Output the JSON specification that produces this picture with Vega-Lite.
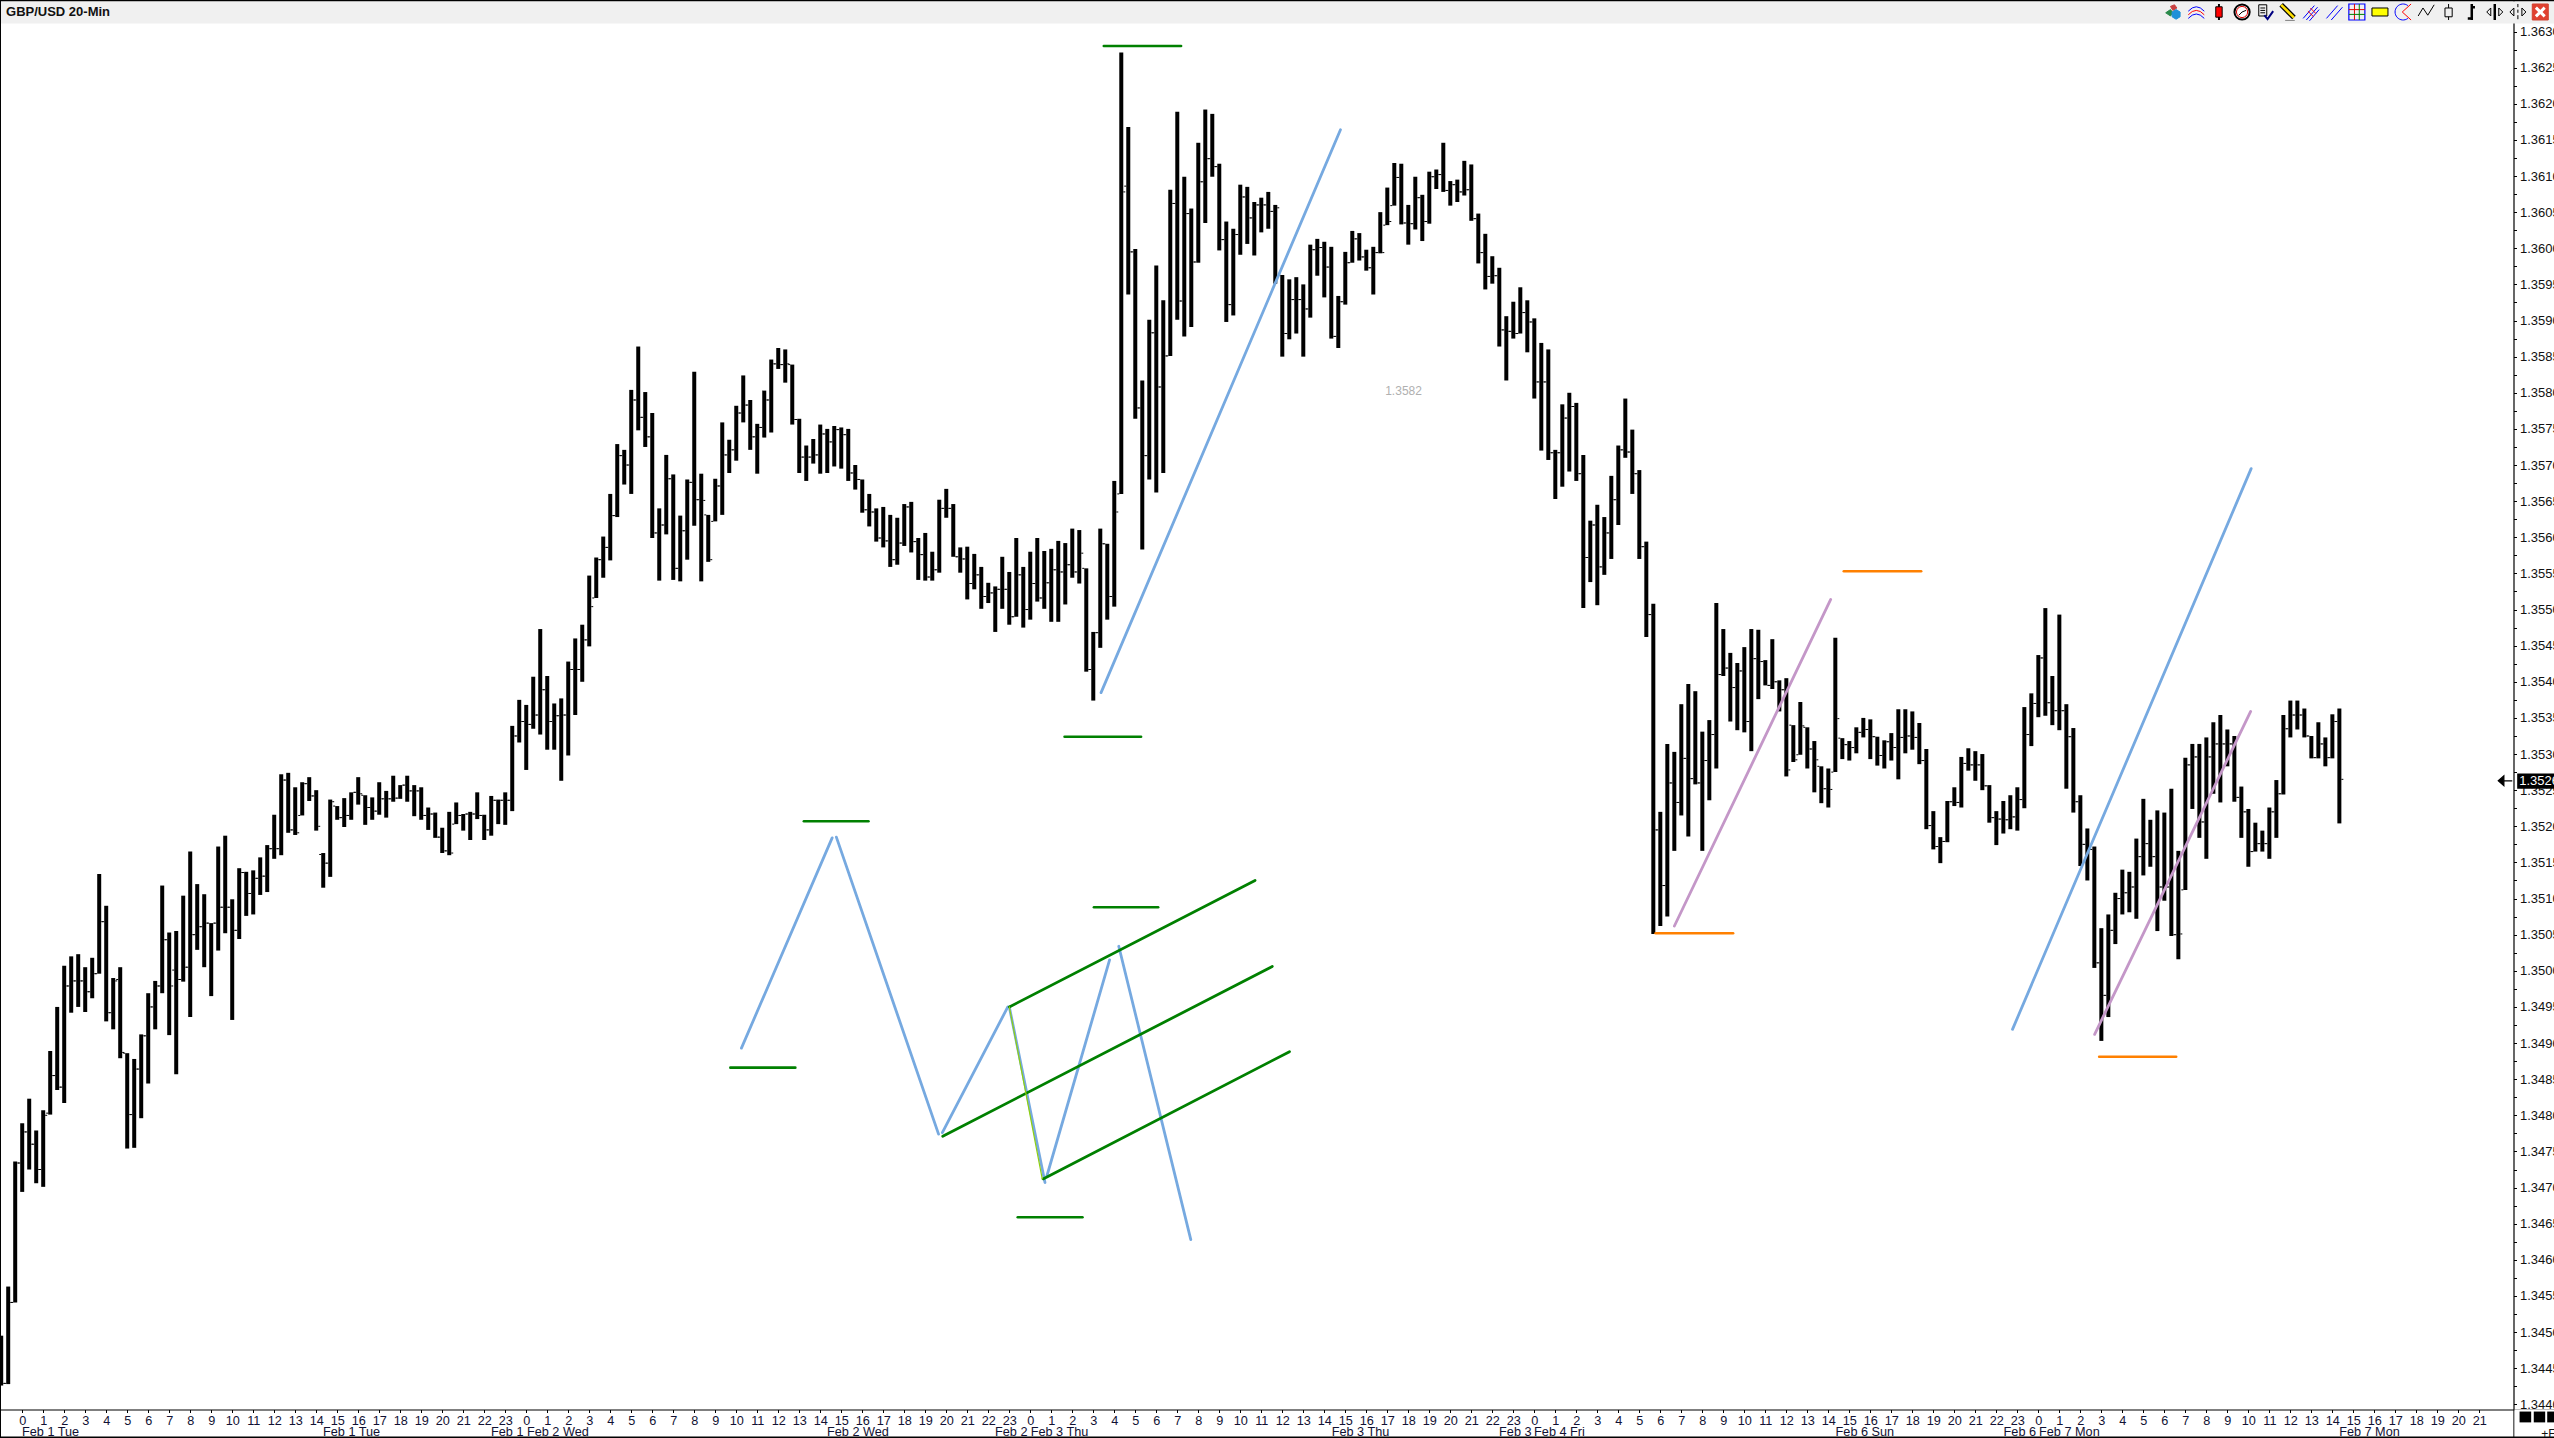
{"$schema":"https://vega.github.io/schema/vega-lite/v6.json","width":2554,"height":1438,"autosize":{"type":"none"},"padding":0,"background":"white","config":{"view":{"stroke":null},"font":"Liberation Sans"},"resolve":{"axis":{"x":"independent","y":"independent"}},
"datasets":{
"bars":[
{"i":0,"h":1.34495,"l":1.34426,"o":1.3444,"c":1.34429},{"i":1,"h":1.34563,"l":1.34428,"o":1.34429,"c":1.34541},{"i":2,"h":1.34736,"l":1.34541,"o":1.34541,"c":1.34734},{"i":3,"h":1.34789,"l":1.34694,"o":1.34734,"c":1.34777},{"i":4,"h":1.34823,"l":1.34725,"o":1.34777,"c":1.3476},{"i":5,"h":1.34779,"l":1.34706,"o":1.3476,"c":1.34725},{"i":6,"h":1.34807,"l":1.34701,"o":1.34725,"c":1.348},{"i":7,"h":1.34889,"l":1.34801,"o":1.34803,"c":1.34855},{"i":8,"h":1.3495,"l":1.34835,"o":1.34855,"c":1.34839},{"i":9,"h":1.35007,"l":1.34817,"o":1.34839,"c":1.34979},
{"i":10,"h":1.3502,"l":1.34942,"o":1.34979,"c":1.34986},{"i":11,"h":1.35023,"l":1.3495,"o":1.34986,"c":1.34986},{"i":12,"h":1.35005,"l":1.34943,"o":1.34986,"c":1.34971},{"i":13,"h":1.35018,"l":1.34962,"o":1.34971,"c":1.34996},{"i":14,"h":1.35134,"l":1.34996,"o":1.34996,"c":1.35068},{"i":15,"h":1.3509,"l":1.3493,"o":1.35068,"c":1.34942},{"i":16,"h":1.3499,"l":1.34919,"o":1.34942,"c":1.34986},{"i":17,"h":1.35005,"l":1.34879,"o":1.34988,"c":1.34887},{"i":18,"h":1.34886,"l":1.34754,"o":1.34886,"c":1.34801},{"i":19,"h":1.34878,"l":1.34755,"o":1.34801,"c":1.34864},
{"i":20,"h":1.34912,"l":1.34796,"o":1.34864,"c":1.3491},{"i":21,"h":1.34969,"l":1.34844,"o":1.3491,"c":1.3495},{"i":22,"h":1.34986,"l":1.34919,"o":1.3495,"c":1.34979},{"i":23,"h":1.35118,"l":1.34969,"o":1.34979,"c":1.35043},{"i":24,"h":1.35053,"l":1.34911,"o":1.35043,"c":1.34979},{"i":25,"h":1.35055,"l":1.34857,"o":1.35001,"c":1.34988},{"i":26,"h":1.35104,"l":1.34985,"o":1.34988,"c":1.35005},{"i":27,"h":1.35165,"l":1.34936,"o":1.35005,"c":1.3505},{"i":28,"h":1.3512,"l":1.35029,"o":1.3505,"c":1.35061},{"i":29,"h":1.35106,"l":1.35005,"o":1.35061,"c":1.35066},
{"i":30,"h":1.35066,"l":1.34965,"o":1.35066,"c":1.35066},{"i":31,"h":1.35172,"l":1.35028,"o":1.35066,"c":1.35088},{"i":32,"h":1.35187,"l":1.35052,"o":1.35088,"c":1.35088},{"i":33,"h":1.35099,"l":1.34932,"o":1.35088,"c":1.35056},{"i":34,"h":1.35142,"l":1.35044,"o":1.35056,"c":1.35136},{"i":35,"h":1.35137,"l":1.35076,"o":1.35136,"c":1.35107},{"i":36,"h":1.35139,"l":1.35078,"o":1.35107,"c":1.35128},{"i":37,"h":1.35157,"l":1.35105,"o":1.35128,"c":1.35131},{"i":38,"h":1.35174,"l":1.35109,"o":1.35131,"c":1.35169},{"i":39,"h":1.35216,"l":1.35155,"o":1.35169,"c":1.35169},
{"i":40,"h":1.35272,"l":1.3516,"o":1.35169,"c":1.35264},{"i":41,"h":1.35274,"l":1.35191,"o":1.35264,"c":1.35195},{"i":42,"h":1.35254,"l":1.35188,"o":1.35195,"c":1.35191},{"i":43,"h":1.35261,"l":1.35215,"o":1.35215,"c":1.35259},{"i":44,"h":1.35268,"l":1.35235,"o":1.35259,"c":1.35242},{"i":45,"h":1.3525,"l":1.35194,"o":1.35242,"c":1.352},{"i":46,"h":1.35163,"l":1.35115,"o":1.35161,"c":1.35149},{"i":47,"h":1.35237,"l":1.3513,"o":1.35149,"c":1.35234},{"i":48,"h":1.35228,"l":1.35209,"o":1.35228,"c":1.35212},{"i":49,"h":1.35239,"l":1.35199,"o":1.35212,"c":1.35215},
{"i":50,"h":1.35247,"l":1.35209,"o":1.35215,"c":1.35247},{"i":51,"h":1.35268,"l":1.3523,"o":1.35247,"c":1.35245},{"i":52,"h":1.35243,"l":1.35202,"o":1.35243,"c":1.35226},{"i":53,"h":1.3524,"l":1.35209,"o":1.35226,"c":1.35221},{"i":54,"h":1.35261,"l":1.35216,"o":1.35221,"c":1.35238},{"i":55,"h":1.35249,"l":1.35212,"o":1.35238,"c":1.35238},{"i":56,"h":1.3527,"l":1.35234,"o":1.35238,"c":1.35239},{"i":57,"h":1.35257,"l":1.35238,"o":1.35239,"c":1.35257},{"i":58,"h":1.3527,"l":1.35234,"o":1.35257,"c":1.35249},{"i":59,"h":1.35257,"l":1.35214,"o":1.35249,"c":1.35249},
{"i":60,"h":1.35254,"l":1.35209,"o":1.35249,"c":1.35215},{"i":61,"h":1.35226,"l":1.35195,"o":1.35215,"c":1.35217},{"i":62,"h":1.35219,"l":1.35184,"o":1.35217,"c":1.35185},{"i":63,"h":1.35198,"l":1.35163,"o":1.35185,"c":1.35166},{"i":64,"h":1.3522,"l":1.3516,"o":1.35166,"c":1.35163},{"i":65,"h":1.35233,"l":1.35203,"o":1.35203,"c":1.35215},{"i":66,"h":1.35217,"l":1.35194,"o":1.35215,"c":1.35217},{"i":67,"h":1.3522,"l":1.35181,"o":1.35217,"c":1.35217},{"i":68,"h":1.35247,"l":1.3521,"o":1.35217,"c":1.35215},{"i":69,"h":1.35216,"l":1.35181,"o":1.35215,"c":1.35195},
{"i":70,"h":1.35242,"l":1.35187,"o":1.35195,"c":1.35236},{"i":71,"h":1.35237,"l":1.35203,"o":1.35236,"c":1.35236},{"i":72,"h":1.35247,"l":1.35202,"o":1.35236,"c":1.35236},{"i":73,"h":1.35339,"l":1.35221,"o":1.35236,"c":1.35325},{"i":74,"h":1.35375,"l":1.35316,"o":1.35325,"c":1.35345},{"i":75,"h":1.35368,"l":1.35278,"o":1.35345,"c":1.35341},{"i":76,"h":1.35407,"l":1.35335,"o":1.35341,"c":1.35354},{"i":77,"h":1.35473,"l":1.35327,"o":1.35354,"c":1.35389},{"i":78,"h":1.35408,"l":1.35306,"o":1.35389,"c":1.35345},{"i":79,"h":1.3537,"l":1.35306,"o":1.35345,"c":1.35353},
{"i":80,"h":1.35377,"l":1.35263,"o":1.35353,"c":1.35354},{"i":81,"h":1.35428,"l":1.35298,"o":1.35354,"c":1.35417},{"i":82,"h":1.3546,"l":1.35354,"o":1.35417,"c":1.35417},{"i":83,"h":1.35479,"l":1.354,"o":1.35417,"c":1.35458},{"i":84,"h":1.35547,"l":1.35449,"o":1.35458,"c":1.35504},{"i":85,"h":1.35572,"l":1.35516,"o":1.35516,"c":1.35569},{"i":86,"h":1.35601,"l":1.35544,"o":1.35569,"c":1.35586},{"i":87,"h":1.3566,"l":1.35568,"o":1.35586,"c":1.3563},{"i":88,"h":1.35729,"l":1.35628,"o":1.3563,"c":1.35713},{"i":89,"h":1.35721,"l":1.35673,"o":1.35713,"c":1.357},
{"i":90,"h":1.35804,"l":1.3566,"o":1.357,"c":1.3579},{"i":91,"h":1.35864,"l":1.35748,"o":1.3579,"c":1.35766},{"i":92,"h":1.35801,"l":1.35725,"o":1.35766,"c":1.35739},{"i":93,"h":1.35772,"l":1.35599,"o":1.35739,"c":1.35606},{"i":94,"h":1.3564,"l":1.3554,"o":1.35606,"c":1.35617},{"i":95,"h":1.35714,"l":1.35604,"o":1.35617,"c":1.35681},{"i":96,"h":1.35687,"l":1.35541,"o":1.35681,"c":1.35557},{"i":97,"h":1.3563,"l":1.35539,"o":1.35557,"c":1.35609},{"i":98,"h":1.3568,"l":1.35569,"o":1.35609,"c":1.35676},{"i":99,"h":1.35829,"l":1.35616,"o":1.35676,"c":1.35652},
{"i":100,"h":1.35688,"l":1.35539,"o":1.35652,"c":1.35651},{"i":101,"h":1.35631,"l":1.35566,"o":1.35631,"c":1.35569},{"i":102,"h":1.35681,"l":1.35622,"o":1.35622,"c":1.35671},{"i":103,"h":1.35759,"l":1.35631,"o":1.35671,"c":1.35714},{"i":104,"h":1.35735,"l":1.35689,"o":1.35714,"c":1.35721},{"i":105,"h":1.35782,"l":1.35706,"o":1.35721,"c":1.35772},{"i":106,"h":1.35824,"l":1.35759,"o":1.35772,"c":1.35783},{"i":107,"h":1.3579,"l":1.35721,"o":1.35783,"c":1.35739},{"i":108,"h":1.35757,"l":1.35688,"o":1.35739,"c":1.35752},{"i":109,"h":1.35803,"l":1.35738,"o":1.35752,"c":1.3579},
{"i":110,"h":1.35846,"l":1.35745,"o":1.3579,"c":1.3584},{"i":111,"h":1.35862,"l":1.35833,"o":1.3584,"c":1.35839},{"i":112,"h":1.3586,"l":1.35814,"o":1.35839,"c":1.3584},{"i":113,"h":1.35839,"l":1.35756,"o":1.35839,"c":1.35763},{"i":114,"h":1.35764,"l":1.35689,"o":1.35763,"c":1.35711},{"i":115,"h":1.35727,"l":1.35678,"o":1.35711,"c":1.35711},{"i":116,"h":1.35736,"l":1.35702,"o":1.35711,"c":1.35714},{"i":117,"h":1.35756,"l":1.35688,"o":1.35714,"c":1.35743},{"i":118,"h":1.3575,"l":1.35689,"o":1.35743,"c":1.35732},{"i":119,"h":1.35754,"l":1.35698,"o":1.35732,"c":1.35749},
{"i":120,"h":1.35752,"l":1.35695,"o":1.35749,"c":1.35742},{"i":121,"h":1.3575,"l":1.35678,"o":1.35742,"c":1.35689},{"i":122,"h":1.357,"l":1.35666,"o":1.35689,"c":1.3568},{"i":123,"h":1.3568,"l":1.35634,"o":1.3568,"c":1.35638},{"i":124,"h":1.3566,"l":1.35615,"o":1.35638,"c":1.35635},{"i":125,"h":1.3564,"l":1.35594,"o":1.35635,"c":1.35599},{"i":126,"h":1.35642,"l":1.35586,"o":1.35599,"c":1.35595},{"i":127,"h":1.35631,"l":1.35559,"o":1.35595,"c":1.35569},{"i":128,"h":1.35627,"l":1.35562,"o":1.35569,"c":1.35592},{"i":129,"h":1.35646,"l":1.35588,"o":1.35592,"c":1.35642},
{"i":130,"h":1.35649,"l":1.35579,"o":1.35642,"c":1.35594},{"i":131,"h":1.35599,"l":1.35541,"o":1.35594,"c":1.35576},{"i":132,"h":1.35606,"l":1.3554,"o":1.35576,"c":1.35545},{"i":133,"h":1.3558,"l":1.3554,"o":1.35545,"c":1.35555},{"i":134,"h":1.35652,"l":1.35551,"o":1.35555,"c":1.3564},{"i":135,"h":1.35667,"l":1.35627,"o":1.3564,"c":1.3564},{"i":136,"h":1.35646,"l":1.35573,"o":1.3564,"c":1.35573},{"i":137,"h":1.35586,"l":1.35551,"o":1.35573,"c":1.3557},{"i":138,"h":1.35587,"l":1.35514,"o":1.3557,"c":1.35536},{"i":139,"h":1.35577,"l":1.35528,"o":1.35536,"c":1.35548},
{"i":140,"h":1.35559,"l":1.35501,"o":1.35548,"c":1.35518},{"i":141,"h":1.35537,"l":1.35509,"o":1.35518,"c":1.35523},{"i":142,"h":1.35532,"l":1.35469,"o":1.35523,"c":1.35528},{"i":143,"h":1.35573,"l":1.35501,"o":1.35528,"c":1.35528},{"i":144,"h":1.35552,"l":1.35479,"o":1.35528,"c":1.3549},{"i":145,"h":1.35599,"l":1.3549,"o":1.3549,"c":1.35548},{"i":146,"h":1.35559,"l":1.35475,"o":1.35548,"c":1.355},{"i":147,"h":1.3558,"l":1.35486,"o":1.355,"c":1.35536},{"i":148,"h":1.35599,"l":1.35511,"o":1.35536,"c":1.35516},{"i":149,"h":1.35581,"l":1.35501,"o":1.35516,"c":1.35537},
{"i":150,"h":1.35584,"l":1.35483,"o":1.35537,"c":1.35555},{"i":151,"h":1.35595,"l":1.35483,"o":1.35555,"c":1.35552},{"i":152,"h":1.35592,"l":1.35507,"o":1.35552,"c":1.35562},{"i":153,"h":1.35612,"l":1.35544,"o":1.35562,"c":1.35552},{"i":154,"h":1.3561,"l":1.35536,"o":1.35552,"c":1.35578},{"i":155,"h":1.35557,"l":1.35414,"o":1.35557,"c":1.35417},{"i":156,"h":1.35469,"l":1.35374,"o":1.35417,"c":1.35468},{"i":157,"h":1.35612,"l":1.35447,"o":1.35468,"c":1.35591},{"i":158,"h":1.35591,"l":1.35486,"o":1.35591,"c":1.35518},{"i":159,"h":1.35678,"l":1.35504,"o":1.35518,"c":1.35635},
{"i":160,"h":1.36271,"l":1.3566,"o":1.3566,"c":1.36078},{"i":161,"h":1.36168,"l":1.35936,"o":1.36086,"c":1.35995},{"i":162,"h":1.35999,"l":1.35764,"o":1.35995,"c":1.35779},{"i":163,"h":1.35817,"l":1.35583,"o":1.35779,"c":1.35713},{"i":164,"h":1.35901,"l":1.3568,"o":1.35713,"c":1.35883},{"i":165,"h":1.35976,"l":1.35662,"o":1.35883,"c":1.35808},{"i":166,"h":1.35928,"l":1.35689,"o":1.35808,"c":1.35851},{"i":167,"h":1.36081,"l":1.35851,"o":1.35851,"c":1.36062},{"i":168,"h":1.36189,"l":1.35901,"o":1.36062,"c":1.35927},{"i":169,"h":1.36099,"l":1.35878,"o":1.35927,"c":1.36048},
{"i":170,"h":1.36055,"l":1.35891,"o":1.36048,"c":1.35981},{"i":171,"h":1.36146,"l":1.3598,"o":1.35981,"c":1.36092},{"i":172,"h":1.36192,"l":1.36035,"o":1.36092,"c":1.36124},{"i":173,"h":1.36186,"l":1.36099,"o":1.36124,"c":1.36113},{"i":174,"h":1.36117,"l":1.35997,"o":1.36113,"c":1.36012},{"i":175,"h":1.36037,"l":1.35898,"o":1.36012,"c":1.35922},{"i":176,"h":1.36027,"l":1.35907,"o":1.35922,"c":1.36019},{"i":177,"h":1.36088,"l":1.35991,"o":1.36019,"c":1.36071},{"i":178,"h":1.36085,"l":1.36006,"o":1.36071,"c":1.36042},{"i":179,"h":1.36064,"l":1.3599,"o":1.36042,"c":1.3606},
{"i":180,"h":1.3607,"l":1.36022,"o":1.3606,"c":1.3606},{"i":181,"h":1.36078,"l":1.36027,"o":1.3606,"c":1.36051},{"i":182,"h":1.3606,"l":1.35951,"o":1.36051,"c":1.36056},{"i":183,"h":1.35963,"l":1.3585,"o":1.35963,"c":1.35882},{"i":184,"h":1.35957,"l":1.35874,"o":1.35882,"c":1.35929},{"i":185,"h":1.3596,"l":1.35882,"o":1.35929,"c":1.35929},{"i":186,"h":1.3595,"l":1.3585,"o":1.35929,"c":1.35916},{"i":187,"h":1.36005,"l":1.35904,"o":1.35916,"c":1.35998},{"i":188,"h":1.36013,"l":1.35962,"o":1.35998,"c":1.36001},{"i":189,"h":1.36009,"l":1.35932,"o":1.36001,"c":1.35974},
{"i":190,"h":1.36002,"l":1.35875,"o":1.35974,"c":1.35878},{"i":191,"h":1.35934,"l":1.35862,"o":1.35878,"c":1.35926},{"i":192,"h":1.35995,"l":1.35922,"o":1.35926,"c":1.3598},{"i":193,"h":1.36024,"l":1.3598,"o":1.3598,"c":1.36013},{"i":194,"h":1.36021,"l":1.35983,"o":1.36013,"c":1.35988},{"i":195,"h":1.35998,"l":1.35969,"o":1.35988,"c":1.35973},{"i":196,"h":1.36002,"l":1.35936,"o":1.35973,"c":1.35994},{"i":197,"h":1.3605,"l":1.35993,"o":1.35994,"c":1.35994},{"i":198,"h":1.36084,"l":1.36032,"o":1.36032,"c":1.36037},{"i":199,"h":1.36118,"l":1.36059,"o":1.36059,"c":1.36098},
{"i":200,"h":1.36117,"l":1.36033,"o":1.36098,"c":1.36035},{"i":201,"h":1.3606,"l":1.36005,"o":1.36035,"c":1.36034},{"i":202,"h":1.36099,"l":1.36026,"o":1.36034,"c":1.3607},{"i":203,"h":1.36074,"l":1.3601,"o":1.3607,"c":1.36037},{"i":204,"h":1.36106,"l":1.36034,"o":1.36037,"c":1.36099},{"i":205,"h":1.36109,"l":1.36082,"o":1.36099,"c":1.36102},{"i":206,"h":1.36146,"l":1.36078,"o":1.36102,"c":1.3608},{"i":207,"h":1.36093,"l":1.36059,"o":1.3608,"c":1.36088},{"i":208,"h":1.36095,"l":1.36064,"o":1.36088,"c":1.36078},{"i":209,"h":1.36121,"l":1.36073,"o":1.36078,"c":1.36081},
{"i":210,"h":1.36116,"l":1.36038,"o":1.36081,"c":1.36041},{"i":211,"h":1.36048,"l":1.35979,"o":1.36041,"c":1.35994},{"i":212,"h":1.3602,"l":1.35943,"o":1.35994,"c":1.35961},{"i":213,"h":1.35989,"l":1.35951,"o":1.35961,"c":1.35962},{"i":214,"h":1.35973,"l":1.35864,"o":1.35962,"c":1.35887},{"i":215,"h":1.35906,"l":1.35817,"o":1.35887,"c":1.35885},{"i":216,"h":1.35926,"l":1.35875,"o":1.35885,"c":1.35882},{"i":217,"h":1.35946,"l":1.35882,"o":1.35882,"c":1.35911},{"i":218,"h":1.35928,"l":1.35856,"o":1.35911,"c":1.35898},{"i":219,"h":1.35903,"l":1.35792,"o":1.35898,"c":1.35815},
{"i":220,"h":1.35869,"l":1.3572,"o":1.35815,"c":1.35815},{"i":221,"h":1.3586,"l":1.35707,"o":1.35815,"c":1.35717},{"i":222,"h":1.35721,"l":1.35653,"o":1.35717,"c":1.35717},{"i":223,"h":1.35784,"l":1.3567,"o":1.35717,"c":1.35765},{"i":224,"h":1.358,"l":1.35691,"o":1.35765,"c":1.35781},{"i":225,"h":1.35786,"l":1.35678,"o":1.35781,"c":1.35688},{"i":226,"h":1.35714,"l":1.35502,"o":1.35688,"c":1.35572},{"i":227,"h":1.35623,"l":1.35538,"o":1.35572,"c":1.35617},{"i":228,"h":1.35645,"l":1.35506,"o":1.35617,"c":1.35559},{"i":229,"h":1.35628,"l":1.35548,"o":1.35559,"c":1.35606},
{"i":230,"h":1.35685,"l":1.3557,"o":1.35606,"c":1.35652},{"i":231,"h":1.35727,"l":1.35617,"o":1.35652,"c":1.35721},{"i":232,"h":1.35792,"l":1.3571,"o":1.35721,"c":1.35718},{"i":233,"h":1.35749,"l":1.3566,"o":1.35718,"c":1.35688},{"i":234,"h":1.35693,"l":1.3557,"o":1.35688,"c":1.35587},{"i":235,"h":1.35594,"l":1.35462,"o":1.35587,"c":1.35493},{"i":236,"h":1.35508,"l":1.35051,"o":1.35493,"c":1.35195},{"i":237,"h":1.3522,"l":1.35062,"o":1.35195,"c":1.35118},{"i":238,"h":1.35314,"l":1.35075,"o":1.35118,"c":1.3526},{"i":239,"h":1.35303,"l":1.35166,"o":1.3526,"c":1.35233},
{"i":240,"h":1.35369,"l":1.35215,"o":1.35233,"c":1.35294},{"i":241,"h":1.35397,"l":1.35186,"o":1.35294,"c":1.35266},{"i":242,"h":1.35387,"l":1.35258,"o":1.35266,"c":1.3526},{"i":243,"h":1.35331,"l":1.35166,"o":1.3526,"c":1.35291},{"i":244,"h":1.35347,"l":1.35236,"o":1.35291,"c":1.35327},{"i":245,"h":1.35509,"l":1.3528,"o":1.35327,"c":1.3541},{"i":246,"h":1.35473,"l":1.35408,"o":1.3541,"c":1.35419},{"i":247,"h":1.3544,"l":1.35345,"o":1.35419,"c":1.35392},{"i":248,"h":1.35426,"l":1.35333,"o":1.35392,"c":1.35415},{"i":249,"h":1.35448,"l":1.3533,"o":1.35415,"c":1.35345},
{"i":250,"h":1.35473,"l":1.35304,"o":1.35345,"c":1.35432},{"i":251,"h":1.35472,"l":1.35376,"o":1.35432,"c":1.35428},{"i":252,"h":1.3543,"l":1.35395,"o":1.35428,"c":1.35395},{"i":253,"h":1.35459,"l":1.3539,"o":1.35395,"c":1.354},{"i":254,"h":1.35402,"l":1.35359,"o":1.354,"c":1.35389},{"i":255,"h":1.35405,"l":1.35269,"o":1.35389,"c":1.35278},{"i":256,"h":1.3534,"l":1.35289,"o":1.3534,"c":1.35292},{"i":257,"h":1.35372,"l":1.35299,"o":1.35299,"c":1.35339},{"i":258,"h":1.35337,"l":1.3528,"o":1.35337,"c":1.35307},{"i":259,"h":1.35318,"l":1.35247,"o":1.35307,"c":1.35292},
{"i":260,"h":1.35283,"l":1.35232,"o":1.35283,"c":1.35252},{"i":261,"h":1.3528,"l":1.35226,"o":1.35252,"c":1.35251},{"i":262,"h":1.35461,"l":1.35275,"o":1.35275,"c":1.35349},{"i":263,"h":1.35322,"l":1.35293,"o":1.35322,"c":1.35313},{"i":264,"h":1.35318,"l":1.35291,"o":1.35313,"c":1.35309},{"i":265,"h":1.35337,"l":1.35301,"o":1.35309,"c":1.3533},{"i":266,"h":1.3535,"l":1.35323,"o":1.3533,"c":1.35334},{"i":267,"h":1.35348,"l":1.35293,"o":1.35334,"c":1.35324},{"i":268,"h":1.35324,"l":1.35284,"o":1.35324,"c":1.35298},{"i":269,"h":1.35319,"l":1.3528,"o":1.35298,"c":1.35317},
{"i":270,"h":1.35329,"l":1.35291,"o":1.35317,"c":1.35309},{"i":271,"h":1.35362,"l":1.35265,"o":1.35309,"c":1.35323},{"i":272,"h":1.35362,"l":1.35301,"o":1.35323,"c":1.35325},{"i":273,"h":1.35359,"l":1.35306,"o":1.35325,"c":1.35323},{"i":274,"h":1.35343,"l":1.35286,"o":1.35323,"c":1.35291},{"i":275,"h":1.35307,"l":1.35196,"o":1.35291,"c":1.35201},{"i":276,"h":1.35221,"l":1.35168,"o":1.35201,"c":1.35172},{"i":277,"h":1.35185,"l":1.35149,"o":1.35172,"c":1.35179},{"i":278,"h":1.35235,"l":1.35178,"o":1.35179,"c":1.35234},{"i":279,"h":1.35254,"l":1.35228,"o":1.35234,"c":1.35233},
{"i":280,"h":1.35296,"l":1.35226,"o":1.35233,"c":1.35287},{"i":281,"h":1.35308,"l":1.35277,"o":1.35287,"c":1.35285},{"i":282,"h":1.35304,"l":1.35263,"o":1.35285,"c":1.35285},{"i":283,"h":1.353,"l":1.3525,"o":1.35285,"c":1.35256},{"i":284,"h":1.35257,"l":1.35205,"o":1.35256,"c":1.35212},{"i":285,"h":1.35221,"l":1.35174,"o":1.35212,"c":1.3521},{"i":286,"h":1.35235,"l":1.3519,"o":1.3521,"c":1.35209},{"i":287,"h":1.35243,"l":1.35196,"o":1.35209,"c":1.35213},{"i":288,"h":1.35254,"l":1.35194,"o":1.35213,"c":1.35237},{"i":289,"h":1.35365,"l":1.35225,"o":1.35237,"c":1.35327},
{"i":290,"h":1.35384,"l":1.35311,"o":1.35327,"c":1.3537},{"i":291,"h":1.35437,"l":1.35351,"o":1.3537,"c":1.35433},{"i":292,"h":1.35502,"l":1.35353,"o":1.35433,"c":1.35371},{"i":293,"h":1.35408,"l":1.3534,"o":1.35371,"c":1.3536},{"i":294,"h":1.35493,"l":1.35333,"o":1.3536,"c":1.3536},{"i":295,"h":1.35369,"l":1.35252,"o":1.3536,"c":1.35324},{"i":296,"h":1.35336,"l":1.35219,"o":1.35324,"c":1.35234},{"i":297,"h":1.35243,"l":1.35145,"o":1.35234,"c":1.35175},{"i":298,"h":1.35197,"l":1.35125,"o":1.35175,"c":1.35168},{"i":299,"h":1.35172,"l":1.35004,"o":1.35168,"c":1.35011},
{"i":300,"h":1.35059,"l":1.34903,"o":1.35011,"c":1.34966},{"i":301,"h":1.35078,"l":1.34936,"o":1.34966,"c":1.35056},{"i":302,"h":1.35108,"l":1.35037,"o":1.35056,"c":1.351},{"i":303,"h":1.3514,"l":1.35078,"o":1.351,"c":1.35108},{"i":304,"h":1.35137,"l":1.35081,"o":1.35108,"c":1.35116},{"i":305,"h":1.35183,"l":1.35072,"o":1.35116,"c":1.35158},{"i":306,"h":1.35238,"l":1.35132,"o":1.35158,"c":1.35176},{"i":307,"h":1.35209,"l":1.35144,"o":1.35176,"c":1.35158},{"i":308,"h":1.35222,"l":1.35055,"o":1.35158,"c":1.35116},{"i":309,"h":1.35219,"l":1.35097,"o":1.35116,"c":1.35116},
{"i":310,"h":1.35252,"l":1.35048,"o":1.35116,"c":1.3505},{"i":311,"h":1.35166,"l":1.35016,"o":1.3505,"c":1.35051},{"i":312,"h":1.35295,"l":1.35112,"o":1.35112,"c":1.35285},{"i":313,"h":1.35314,"l":1.35224,"o":1.35285,"c":1.35296},{"i":314,"h":1.35314,"l":1.35184,"o":1.35296,"c":1.35206},{"i":315,"h":1.35323,"l":1.35155,"o":1.35206,"c":1.35296},{"i":316,"h":1.35344,"l":1.35245,"o":1.35296,"c":1.35314},{"i":317,"h":1.35354,"l":1.35233,"o":1.35314,"c":1.35314},{"i":318,"h":1.35334,"l":1.35283,"o":1.35314,"c":1.35314},{"i":319,"h":1.35325,"l":1.35234,"o":1.35314,"c":1.3524},
{"i":320,"h":1.35255,"l":1.35184,"o":1.3524,"c":1.3522},{"i":321,"h":1.35224,"l":1.35144,"o":1.3522,"c":1.35165},{"i":322,"h":1.35205,"l":1.35165,"o":1.35165,"c":1.35176},{"i":323,"h":1.35194,"l":1.35165,"o":1.35176,"c":1.35176},{"i":324,"h":1.35226,"l":1.35155,"o":1.35176,"c":1.3522},{"i":325,"h":1.35264,"l":1.35184,"o":1.3522,"c":1.35245},{"i":326,"h":1.35354,"l":1.35244,"o":1.35245,"c":1.35335},{"i":327,"h":1.35374,"l":1.35323,"o":1.35335,"c":1.35354},{"i":328,"h":1.35374,"l":1.35334,"o":1.35354,"c":1.35354},{"i":329,"h":1.35363,"l":1.35323,"o":1.35354,"c":1.35325},
{"i":330,"h":1.35325,"l":1.35294,"o":1.35325,"c":1.35295},{"i":331,"h":1.35344,"l":1.35294,"o":1.35295,"c":1.35314},{"i":332,"h":1.35323,"l":1.35283,"o":1.35314,"c":1.35295},{"i":333,"h":1.35355,"l":1.35294,"o":1.35295,"c":1.35345},{"i":334,"h":1.35363,"l":1.35204,"o":1.35345,"c":1.35265}],
"lines":[
{"g":"a","k":0,"col":"#76a9e0","w":2.8,"x":157.11,"p":1.35385},{"g":"a","k":1,"col":"#76a9e0","w":2.8,"x":191.31,"p":1.36164},
{"g":"b","k":0,"col":"#76a9e0","w":2.8,"x":105.74,"p":1.34893},{"g":"b","k":1,"col":"#76a9e0","w":2.8,"x":118.7,"p":1.35184},
{"g":"c","k":0,"col":"#76a9e0","w":2.8,"x":119.3,"p":1.35185},{"g":"c","k":1,"col":"#76a9e0","w":2.8,"x":133.9,"p":1.34774},
{"g":"d","k":0,"col":"#76a9e0","w":2.8,"x":134.44,"p":1.34776},{"g":"d","k":1,"col":"#76a9e0","w":2.8,"x":143.79,"p":1.3495},
{"g":"e","k":0,"col":"#76a9e0","w":2.8,"x":144.01,"p":1.3495},{"g":"e","k":1,"col":"#76a9e0","w":2.8,"x":149.1,"p":1.34707},
{"g":"f","k":0,"col":"#76a9e0","w":2.8,"x":149.37,"p":1.34716},{"g":"f","k":1,"col":"#76a9e0","w":2.8,"x":158.33,"p":1.35015},
{"g":"g","k":0,"col":"#76a9e0","w":2.8,"x":159.64,"p":1.35034},{"g":"g","k":1,"col":"#76a9e0","w":2.8,"x":169.93,"p":1.34628},
{"g":"h","k":0,"col":"#76a9e0","w":2.8,"x":287.31,"p":1.34919},{"g":"h","k":1,"col":"#76a9e0","w":2.8,"x":321.4,"p":1.35695},
{"g":"i","k":0,"col":"#c497c8","w":2.8,"x":239.01,"p":1.35062},{"g":"i","k":1,"col":"#c497c8","w":2.8,"x":261.34,"p":1.35514},
{"g":"j","k":0,"col":"#c497c8","w":2.8,"x":299.04,"p":1.34912},{"g":"j","k":1,"col":"#c497c8","w":2.8,"x":321.33,"p":1.35359},
{"g":"l","k":0,"col":"#008000","w":2.6,"x":157.5,"p":1.3628},{"g":"l","k":1,"col":"#008000","w":2.6,"x":168.54,"p":1.3628},
{"g":"m","k":0,"col":"#008000","w":2.6,"x":151.9,"p":1.35324},{"g":"m","k":1,"col":"#008000","w":2.6,"x":162.83,"p":1.35324},
{"g":"n","k":0,"col":"#008000","w":2.6,"x":104.16,"p":1.34866},{"g":"n","k":1,"col":"#008000","w":2.6,"x":113.44,"p":1.34866},
{"g":"o","k":0,"col":"#008000","w":2.6,"x":114.66,"p":1.35207},{"g":"o","k":1,"col":"#008000","w":2.6,"x":123.89,"p":1.35207},
{"g":"q","k":0,"col":"#008000","w":2.6,"x":156.09,"p":1.35088},{"g":"q","k":1,"col":"#008000","w":2.6,"x":165.27,"p":1.35088},
{"g":"r","k":0,"col":"#008000","w":2.6,"x":145.21,"p":1.34659},{"g":"r","k":1,"col":"#008000","w":2.6,"x":154.46,"p":1.34659},
{"g":"s","k":0,"col":"#008000","w":2.8,"x":144.01,"p":1.3495},{"g":"s","k":1,"col":"#008000","w":2.8,"x":179.11,"p":1.35125},
{"g":"t","k":0,"col":"#008000","w":2.8,"x":134.5,"p":1.34771},{"g":"t","k":1,"col":"#008000","w":2.8,"x":181.57,"p":1.35006},
{"g":"u","k":0,"col":"#008000","w":2.8,"x":148.83,"p":1.34712},{"g":"u","k":1,"col":"#008000","w":2.8,"x":184.03,"p":1.34888},
{"g":"v","k":0,"col":"#ff8000","w":2.6,"x":236.33,"p":1.35052},{"g":"v","k":1,"col":"#ff8000","w":2.6,"x":247.4,"p":1.35052},
{"g":"w","k":0,"col":"#ff8000","w":2.6,"x":263.21,"p":1.35553},{"g":"w","k":1,"col":"#ff8000","w":2.6,"x":274.26,"p":1.35553},
{"g":"y","k":0,"col":"#ff8000","w":2.6,"x":299.69,"p":1.34881},{"g":"y","k":1,"col":"#ff8000","w":2.6,"x":310.69,"p":1.34881},
{"g":"zk","k":0,"col":"#8fd010","w":1.2,"x":144.01,"p":1.3495},{"g":"zk","k":1,"col":"#8fd010","w":1.2,"x":148.71,"p":1.34712}],
"panels":[
{"x":-0.1714,"x2":364.66,"p":1.36342,"p2":1.36311,"f":"#f0f0f0"},
{"x":-0.1714,"x2":364.66,"p":1.363436,"p2":1.36342,"f":"#000000"},
{"x":-0.1714,"x2":-0.0286,"p":1.363436,"p2":1.343534,"f":"#000000"},
{"x":359.02,"x2":364.66,"p":1.34393,"p2":1.343534,"f":"#ffffff"},
{"x":-0.1714,"x2":364.66,"p":1.343555,"p2":1.343534,"f":"#000000"},
{"x":359.74,"x2":361.4,"p":1.3439,"p2":1.34375,"f":"#000000"},
{"x":361.77,"x2":363.4,"p":1.3439,"p2":1.34375,"f":"#000000"},
{"x":363.69,"x2":364.66,"p":1.3439,"p2":1.34375,"f":"#000000"},
{"x":359.4,"x2":364.66,"p":1.35273,"p2":1.35252,"f":"#000000"}],
"titles":[{"x":0.69,"p":1.36327,"t":"GBP/USD 20-Min"}],
"labels":[
{"x":197.7,"p":1.35803,"t":"1.3582","col":"#b0b0b0","fs":12},
{"x":359.7,"p":1.35263,"t":"1.3526","col":"#ffffff","fs":13},
{"x":362.83,"p":1.34359,"t":"+F","col":"#111111","fs":12},
{"x":2.97,"p":1.34362,"t":"Feb 1 Tue","col":"#111133","fs":12.7},
{"x":45.97,"p":1.34362,"t":"Feb 1 Tue","col":"#111133","fs":12.7},
{"x":69.97,"p":1.34362,"t":"Feb 1","col":"#111133","fs":12.7},
{"x":75.1,"p":1.34362,"t":"Feb 2 Wed","col":"#111133","fs":12.7},
{"x":117.97,"p":1.34362,"t":"Feb 2 Wed","col":"#111133","fs":12.7},
{"x":141.97,"p":1.34362,"t":"Feb 2","col":"#111133","fs":12.7},
{"x":147.06,"p":1.34362,"t":"Feb 3 Thu","col":"#111133","fs":12.7},
{"x":190.06,"p":1.34362,"t":"Feb 3 Thu","col":"#111133","fs":12.7},
{"x":213.97,"p":1.34362,"t":"Feb 3","col":"#111133","fs":12.7},
{"x":218.97,"p":1.34362,"t":"Feb 4 Fri","col":"#111133","fs":12.7},
{"x":262.04,"p":1.34362,"t":"Feb 6 Sun","col":"#111133","fs":12.7},
{"x":286.04,"p":1.34362,"t":"Feb 6","col":"#111133","fs":12.7},
{"x":291.1,"p":1.34362,"t":"Feb 7 Mon","col":"#111133","fs":12.7},
{"x":333.97,"p":1.34362,"t":"Feb 7 Mon","col":"#111133","fs":12.7}],
"glyphs":[
{"x":357.7,"p":1.35263,"s":"M-1,0L-0.2,-0.7V0.7ZM-0.2,0H1","st":"#000000","fl":"#000000","sw":1.2,"z":196},
{"x":310.22,"p":1.36327,"s":"M-0.9,0.1L-0.3,-0.3L0,0.1L-0.3,0.5Z","st":"#2a8a4a","fl":"#2a8a4a","sw":1,"z":256},
{"x":310.22,"p":1.36327,"s":"M-0.3,-0.7L0.2,-0.9L0.5,-0.5L0,-0.2Z","st":"#c84040","fl":"#c84040","sw":1,"z":256},
{"x":310.22,"p":1.36327,"s":"M-0.1,0L0.4,-0.3L0.9,0L0.9,0.6L0.4,0.9L-0.1,0.6Z","st":"#2090d8","fl":"#2090d8","sw":1,"z":256},
{"x":313.56,"p":1.36327,"s":"M-1,-0.1Q0,-1.2 1,-0.1M-1,0.8Q0,-0.3 1,0.8","st":"#0000ff","fl":"transparent","sw":1,"z":256},
{"x":313.56,"p":1.36327,"s":"M-1,0.35Q0,-0.75 1,0.35","st":"#ff0000","fl":"transparent","sw":1,"z":256},
{"x":316.8,"p":1.36327,"s":"M0,-1V1","st":"#000000","fl":"transparent","sw":2,"z":256},
{"x":316.8,"p":1.36327,"s":"M-0.4,-0.65H0.4V0.65H-0.4Z","st":"#000000","fl":"#ff0000","sw":1,"z":256},
{"x":320.1,"p":1.36327,"s":"M-0.95,0A0.95,0.95 0 1 1 0.95,0A0.95,0.95 0 1 1 -0.95,0Z","st":"#000000","fl":"#ffffff","sw":2,"z":256},
{"x":320.1,"p":1.36327,"s":"M-0.7,0A0.7,0.7 0 1 1 0.7,0A0.7,0.7 0 1 1 -0.7,0Z","st":"#e00000","fl":"transparent","sw":1,"z":256},
{"x":320.1,"p":1.36327,"s":"M0,0L0.5,-0.2M-0.4,0.4L0,0","st":"#000000","fl":"transparent","sw":1,"z":256},
{"x":323.4,"p":1.36327,"s":"M-0.8,-0.9H0.2V0.5H-0.8ZM-0.6,-0.5H0M-0.6,-0.2H0M-0.6,0.1H0","st":"#000000","fl":"transparent","sw":1,"z":256},
{"x":323.4,"p":1.36327,"s":"M-0.1,0.4L0.3,0.9L1,-0.1","st":"#000080","fl":"transparent","sw":2,"z":256},
{"x":326.6,"p":1.36327,"s":"M-0.8,-0.9L0.8,0.7","st":"#000000","fl":"transparent","sw":5,"z":256},
{"x":326.6,"p":1.36327,"s":"M-0.8,-0.9L0.8,0.7","st":"#ffe000","fl":"transparent","sw":2.5,"z":256},
{"x":326.6,"p":1.36327,"s":"M-0.3,1.05H0.9","st":"#808080","fl":"transparent","sw":1,"z":256},
{"x":329.97,"p":1.36327,"s":"M-1,0.8L0.4,-0.8M-0.6,1L0.8,-0.6M-0.2,1.1L1,-0.3","st":"#0000ff","fl":"transparent","sw":1,"z":256},
{"x":329.97,"p":1.36327,"s":"M-0.4,-0.1L0.3,0.6M-0.1,-0.5L0.6,0.2","st":"#ff0000","fl":"transparent","sw":1,"z":256},
{"x":333.3,"p":1.36327,"s":"M-1,0.8L0.4,-0.8M-0.4,1L1,-0.6","st":"#0000ff","fl":"transparent","sw":1,"z":256},
{"x":336.5,"p":1.36327,"s":"M-1,-1H1V1H-1Z","st":"#0000ff","fl":"transparent","sw":1.2,"z":256},
{"x":336.5,"p":1.36327,"s":"M-1,-0.3H1M-0.3,-1V1","st":"#e00000","fl":"transparent","sw":1,"z":256},
{"x":336.5,"p":1.36327,"s":"M-1,0.3H1M0.3,-1V1","st":"#008000","fl":"transparent","sw":1,"z":256},
{"x":339.8,"p":1.36327,"s":"M-1,-0.5H1V0.5H-1Z","st":"#000000","fl":"#ffff00","sw":1,"z":256},
{"x":343.1,"p":1.36327,"s":"M0.6,-0.8A1,1 0 1 0 0.6,0.8","st":"#0000ff","fl":"transparent","sw":1,"z":256},
{"x":343.1,"p":1.36327,"s":"M1,-1L-0.1,0L1,1","st":"#ff0000","fl":"transparent","sw":1,"z":256},
{"x":346.4,"p":1.36327,"s":"M-1,0.5L-0.4,-0.5L0.2,0.4L1,-0.9","st":"#000000","fl":"transparent","sw":1,"z":256},
{"x":349.6,"p":1.36327,"s":"M0,-1V-0.5M0,0.6V1M-0.45,-0.5H0.45V0.6H-0.45Z","st":"#000000","fl":"transparent","sw":1,"z":256},
{"x":352.8,"p":1.36327,"s":"M0.1,-1V1M0.1,-0.6H0.5M0.1,0.8H-0.4","st":"#000000","fl":"transparent","sw":2.5,"z":256},
{"x":356.2,"p":1.36327,"s":"M-1,0L-0.5,-0.5V0.5ZM1,0L0.5,-0.5V0.5Z","st":"#000000","fl":"transparent","sw":1,"z":256},
{"x":356.2,"p":1.36327,"s":"M0,-1V1","st":"#000000","fl":"transparent","sw":2.5,"z":256},
{"x":359.5,"p":1.36327,"s":"M-1,0L-0.5,-0.5V0.5ZM1,0L0.5,-0.5V0.5Z","st":"#000000","fl":"transparent","sw":1,"z":256},
{"x":359.5,"p":1.36327,"s":"M0,-1V-0.6M0,-0.3V0.1M0,0.4V0.9","st":"#000000","fl":"transparent","sw":1,"z":256},
{"x":362.7,"p":1.36327,"s":"M-1,-1H1V1H-1Z","st":"#d04030","fl":"#e04030","sw":1,"z":256},
{"x":362.7,"p":1.36327,"s":"M-0.55,-0.55L0.55,0.55M0.55,-0.55L-0.55,0.55","st":"#ffffff","fl":"transparent","sw":3,"z":256}]
},
"layer":[
{"data":{"name":"bars"},"mark":{"type":"rule","strokeWidth":4,"color":"#000000"},"encoding":{
"x":{"field":"i","type":"quantitative","scale":{"domain":[-0.1714,364.66],"nice":false,"zero":false},"axis":{"orient":"bottom","offset":-28.5,"title":null,"grid":false,"values":[3,6,9,12,15,18,21,24,27,30,33,36,39,42,45,48,51,54,57,60,63,66,69,72,75,78,81,84,87,90,93,96,99,102,105,108,111,114,117,120,123,126,129,132,135,138,141,144,147,150,153,156,159,162,165,168,171,174,177,180,183,186,189,192,195,198,201,204,207,210,213,216,219,222,225,228,231,234,237,240,243,246,249,252,255,258,261,264,267,270,273,276,279,282,285,288,291,294,297,300,303,306,309,312,315,318,321,324,327,330,333,336,339,342,345,348,351,354],"labelExpr":"((datum.value-3)/3)%24","labelOverlap":false,"labelFlush":false,"labelFontSize":12.7,"labelFont":"Liberation Sans","labelColor":"#111133","labelPadding":2,"tickSize":3,"tickColor":"#000000","domainColor":"#000000","domainWidth":1.2}},
"y":{"field":"h","type":"quantitative","scale":{"domain":[1.343534,1.363436],"nice":false,"zero":false},"axis":{"orient":"right","offset":-40.5,"title":null,"grid":false,"values":[1.344,1.34425,1.3445,1.34475,1.345,1.34525,1.3455,1.34575,1.346,1.34625,1.3465,1.34675,1.347,1.34725,1.3475,1.34775,1.348,1.34825,1.3485,1.34875,1.349,1.34925,1.3495,1.34975,1.35,1.35025,1.3505,1.35075,1.351,1.35125,1.3515,1.35175,1.352,1.35225,1.3525,1.35275,1.353,1.35325,1.3535,1.35375,1.354,1.35425,1.3545,1.35475,1.355,1.35525,1.3555,1.35575,1.356,1.35625,1.3565,1.35675,1.357,1.35725,1.3575,1.35775,1.358,1.35825,1.3585,1.35875,1.359,1.35925,1.3595,1.35975,1.36,1.36025,1.3605,1.36075,1.361,1.36125,1.3615,1.36175,1.362,1.36225,1.3625,1.36275,1.363],"labelExpr":"round(datum.value*10000)%5==0 ? format(datum.value,'.4f') : ''","labelOverlap":false,"labelFlush":false,"labelFontSize":13,"labelFont":"Liberation Sans","labelColor":"#111111","labelPadding":3,"labelBaseline":"middle","tickSize":3,"tickColor":"#000000","domainColor":"#000000","domainWidth":1.2}},
"y2":{"field":"l"}}},
{"data":{"name":"bars"},"mark":{"type":"point","shape":"M-1.33,0H-0.67","size":36,"filled":false,"stroke":"#000000","strokeWidth":1,"opacity":1},"encoding":{"x":{"field":"i","type":"quantitative","axis":null},"y":{"field":"o","type":"quantitative","axis":null}}},
{"data":{"name":"bars"},"mark":{"type":"point","shape":"M0.67,0H1.33","size":36,"filled":false,"stroke":"#000000","strokeWidth":1,"opacity":1},"encoding":{"x":{"field":"i","type":"quantitative","axis":null},"y":{"field":"c","type":"quantitative","axis":null}}},
{"data":{"name":"lines"},"mark":{"type":"line","strokeCap":"round"},"encoding":{"x":{"field":"x","type":"quantitative","axis":null},"y":{"field":"p","type":"quantitative","axis":null},"detail":{"field":"g"},"order":{"field":"k"},"color":{"field":"col","type":"nominal","scale":null},"strokeWidth":{"field":"w","type":"quantitative","scale":null}}},
{"data":{"name":"panels"},"mark":{"type":"rect"},"encoding":{"x":{"field":"x","type":"quantitative","axis":null},"x2":{"field":"x2"},"y":{"field":"p","type":"quantitative","axis":null},"y2":{"field":"p2"},"fill":{"field":"f","type":"nominal","scale":null}}},
{"data":{"name":"glyphs"},"mark":{"type":"point","opacity":1},"encoding":{"x":{"field":"x","type":"quantitative","axis":null},"y":{"field":"p","type":"quantitative","axis":null},"shape":{"field":"s","type":"nominal","scale":null},"stroke":{"field":"st","type":"nominal","scale":null},"fill":{"field":"fl","type":"nominal","scale":null},"strokeWidth":{"field":"sw","type":"quantitative","scale":null},"size":{"field":"z","type":"quantitative","scale":null}}},
{"data":{"name":"labels"},"mark":{"type":"text","align":"left","baseline":"middle","font":"Liberation Sans"},"encoding":{"x":{"field":"x","type":"quantitative","axis":null},"y":{"field":"p","type":"quantitative","axis":null},"text":{"field":"t"},"color":{"field":"col","type":"nominal","scale":null},"size":{"field":"fs","type":"quantitative","scale":null}}},
{"data":{"name":"titles"},"mark":{"type":"text","align":"left","baseline":"middle","font":"Liberation Sans","fontWeight":"bold","fontSize":13,"color":"#111111"},"encoding":{"x":{"field":"x","type":"quantitative","axis":null},"y":{"field":"p","type":"quantitative","axis":null},"text":{"field":"t"}}}
]}
